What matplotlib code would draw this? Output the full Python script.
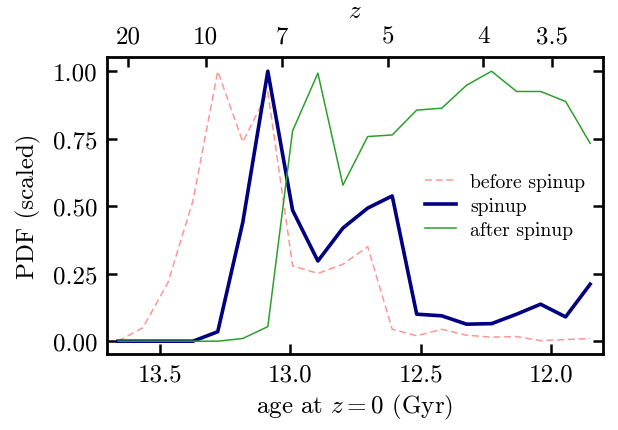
import matplotlib
matplotlib.use("Agg")
from matplotlib import pyplot as plt
from matplotlib.ticker import FormatStrFormatter

plt.rcParams["font.family"] = "serif"
plt.rcParams["font.serif"] = ["cmr10"]
plt.rcParams["mathtext.fontset"] = "cm"
plt.rcParams["axes.formatter.use_mathtext"] = True

# age at z=0 (Gyr), bin centres
age = [13.660, 13.565, 13.469, 13.373, 13.278, 13.182, 13.086, 12.991, 12.894, 12.798,
       12.703, 12.609, 12.515, 12.419, 12.324, 12.228, 12.132, 12.040, 11.944, 11.850]

before_spinup = [0.0, 0.05, 0.217, 0.52, 1.00, 0.738, 0.923, 0.279, 0.251, 0.285,
                 0.35, 0.044, 0.020, 0.044, 0.022, 0.015, 0.017, 0.002, 0.006, 0.010]
spinup = [0.0, 0.0, 0.0, 0.0, 0.035, 0.44, 1.00, 0.485, 0.297, 0.419,
          0.493, 0.538, 0.100, 0.094, 0.063, 0.065, 0.100, 0.137, 0.090, 0.211]
after_spinup = [0.0, 0.0, 0.0, 0.0, 0.0, 0.010, 0.054, 0.779, 0.993, 0.578,
                0.758, 0.764, 0.856, 0.863, 0.948, 1.00, 0.925, 0.925, 0.888, 0.733]

# redshift ticks on the top axis and the matching age at z=0
z_labels = ["20", "10", "7", "5", "4", "3.5"]
z_age = [13.621, 13.324, 13.033, 12.624, 12.260, 11.997]

fig = plt.figure(figsize=(6.18, 4.31), dpi=100)
ax = fig.add_axes([0.173, 0.176, 0.803, 0.689])

ax.plot(age, before_spinup, color="#ff9696", ls="--", lw=1.1, dashes=(4.5, 2.5),
        label="before spinup")
ax.plot(age, spinup, color="navy", lw=2.6, label="spinup")
ax.plot(age, after_spinup, color="#2ca02c", lw=1.1, label="after spinup")

ax.set_xlim(13.703, 11.80)
ax.set_ylim(-0.048, 1.052)
ax.set_xticks([13.5, 13.0, 12.5, 12.0])
ax.xaxis.set_major_formatter(FormatStrFormatter("%.1f"))
ax.set_yticks([0.0, 0.25, 0.5, 0.75, 1.0])
ax.yaxis.set_major_formatter(FormatStrFormatter("%.2f"))
ax.tick_params(direction="in", length=7, width=1.8, labelsize=18, right=True, pad=7)
for s in ax.spines.values():
    s.set_linewidth(2.0)

ax.set_xlabel("age at $z=0$ (Gyr)", fontsize=18, labelpad=4)
ax.set_ylabel("PDF (scaled)", fontsize=18, labelpad=8)

top = ax.twiny()
top.set_xlim(ax.get_xlim())
top.set_xticks(z_age)
top.set_xticklabels(z_labels)
top.tick_params(direction="in", length=7, width=1.8, labelsize=18, pad=7)
top.set_xlabel("$z$", fontsize=18, labelpad=6)

ax.legend(loc="center left", bbox_to_anchor=(0.605, 0.50), frameon=False,
          fontsize=14.2, handlelength=1.6, handletextpad=0.7, labelspacing=0.3)

fig.savefig("out.png", dpi=100)
